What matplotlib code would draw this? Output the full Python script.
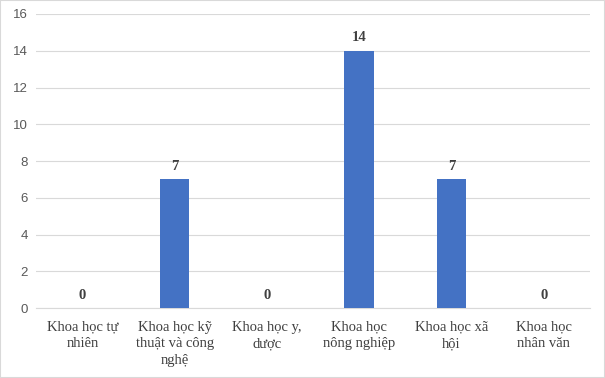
import matplotlib

matplotlib.use("Agg")
import matplotlib.pyplot as plt
from matplotlib.patches import Rectangle

categories = [
    "Khoa học tự\nnhiên",
    "Khoa học kỹ\nthuật và công\nnghệ",
    "Khoa học y,\ndược",
    "Khoa học\nnông nghiệp",
    "Khoa học xã\nhội",
    "Khoa học\nnhân văn",
]
values = [0, 7, 0, 14, 7, 0]
yticks = [0, 2, 4, 6, 8, 10, 12, 14, 16]

bar_color = "#4472C4"
serif = ["Liberation Serif", "DejaVu Serif"]

fig = plt.figure(figsize=(6.05, 3.78), dpi=100)
ax = fig.add_axes([0.06, 0.185, 0.915, 0.778])

x = range(len(categories))
bars = ax.bar(x, values, width=0.32, color=bar_color, zorder=3)

for bar, v in zip(bars, values):
    ax.text(
        bar.get_x() + bar.get_width() / 2,
        v + 0.35,
        f"{v}",
        ha="center",
        va="bottom",
        fontsize=10.5,
        fontweight="bold",
        color="#404040",
        family=serif,
    )

ax.set_xlim(-0.5, len(categories) - 0.5)
ax.set_ylim(0, 16)
ax.set_yticks(yticks)
ax.set_yticklabels([str(t) for t in yticks], fontsize=9.5, color="#595959",
                   family=["Liberation Sans", "DejaVu Sans"])
ax.set_xticks(list(x))
ax.set_xticklabels(categories, fontsize=10.5, color="#404040", family=serif,
                   linespacing=1.38, va="top")

ax.grid(axis="y", color="#D9D9D9", linewidth=0.8, zorder=0)
ax.tick_params(axis="both", length=0, pad=6)
ax.tick_params(axis="x", pad=9)
for side in ["top", "right", "left"]:
    ax.spines[side].set_visible(False)
ax.spines["bottom"].set_color("#D9D9D9")

fig.patches.append(Rectangle((0, 0), 1, 1, transform=fig.transFigure,
                             fill=False, edgecolor="#D9D9D9", linewidth=1.5))

plt.savefig("out.png", dpi=100, facecolor="white")
plt.close()
